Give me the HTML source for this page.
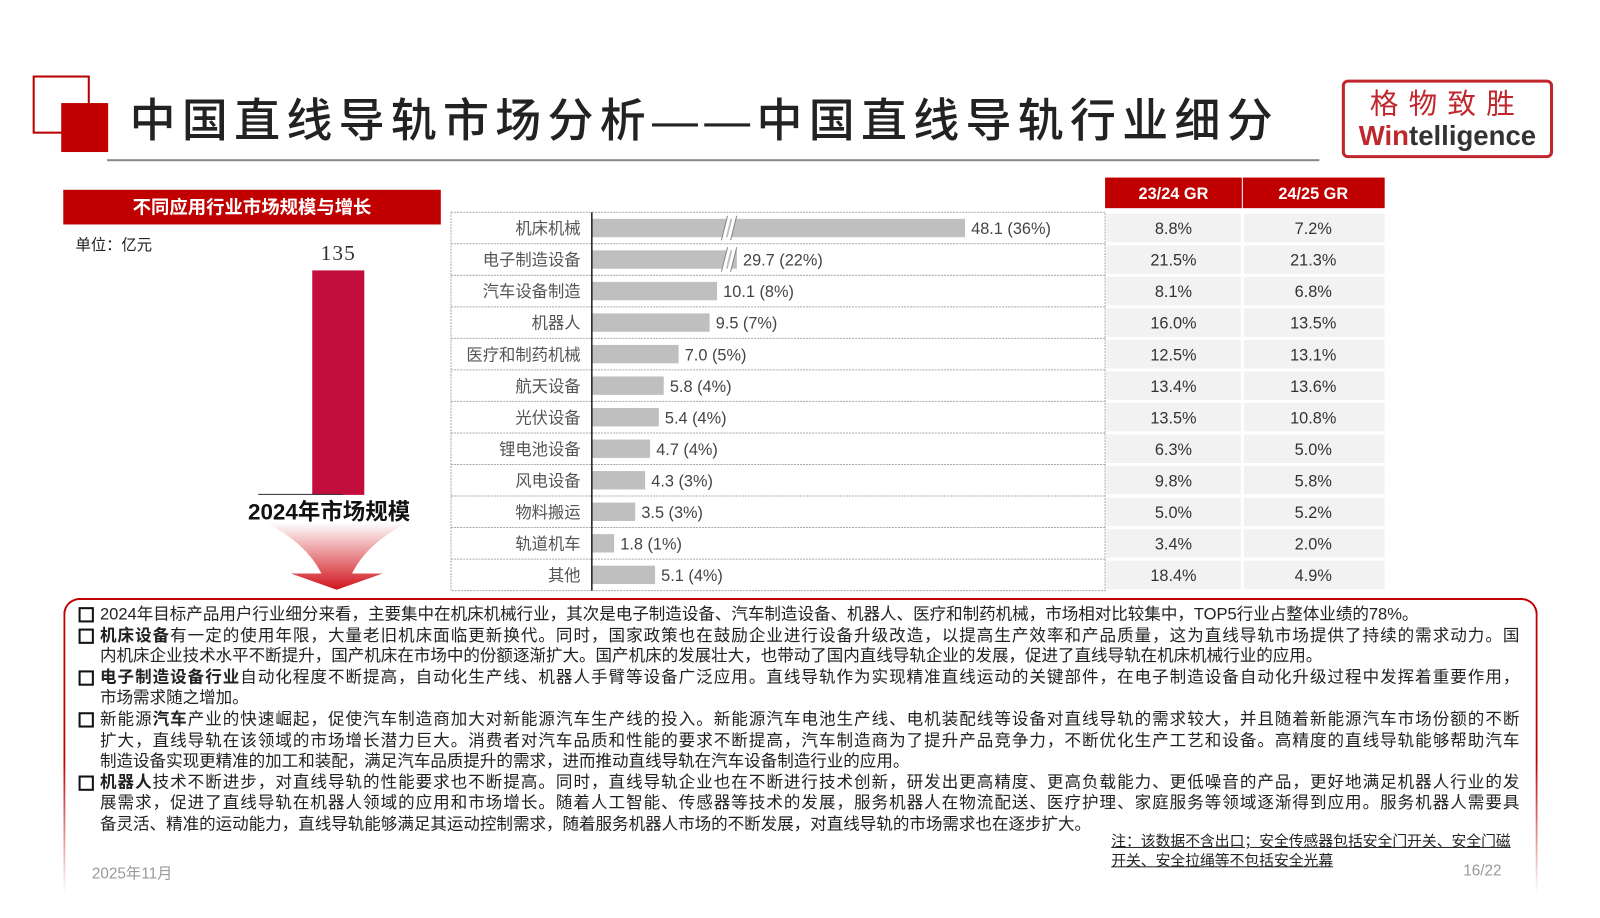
<!DOCTYPE html>
<html><head><meta charset="utf-8">
<style>
*{margin:0;padding:0;box-sizing:border-box}
body{width:1600px;height:900px;background:#fff;position:relative;overflow:hidden;font-family:"Liberation Sans","Noto Sans CJK SC",sans-serif;color:#222}
#wrap{position:absolute;left:0;top:0;width:1568px;height:882px;transform:scale(1.0204);transform-origin:0 0}
.abs{position:absolute}
.title{left:127px;top:82px;font-size:45px;letter-spacing:6.2px;color:#222;white-space:nowrap;font-weight:500}
.txt{left:98px;top:592px;width:1391px;font-size:16.2px;line-height:20.6px;color:#222;white-space:nowrap}
.txt p{position:relative}
.txt p:before{content:"";position:absolute;left:-21px;top:3px;width:11px;height:11px;border:2.5px solid #111}
.txt b{font-weight:bold}
.txt .j{display:block;text-align:justify;text-align-last:justify;white-space:normal}
</style></head><body>
<div id="wrap">
<div class="abs" style="left:32px;top:74px;width:56px;height:57px;border:2px solid #b80000"></div>
<div class="abs" style="left:60px;top:101px;width:46px;height:48px;background:#c00000"></div>
<div class="abs title">中国直线导轨市场分析——中国直线导轨行业细分</div>
<div class="abs" style="left:105px;top:156px;width:1188px;height:2px;background:#888"></div>
<div class="abs" style="left:1315px;top:78px;width:207px;height:77px;border:3px solid #c0272d;border-radius:6px;text-align:center">
 <div style="color:#c0272d;font-size:28px;letter-spacing:10px;line-height:34px;margin-top:4px">格物致胜</div>
 <div style="color:#333;font-size:27px;font-weight:bold;line-height:28px"><span style="color:#c0272d">Win</span>telligence</div>
</div>
<div class="abs" style="left:62px;top:186px;width:370px;height:34px;background:#c00000;color:#fff;font-weight:bold;font-size:18px;text-align:center;line-height:34px">不同应用行业市场规模与增长</div>
<div class="abs" style="left:74px;top:229px;font-size:15px">单位：亿元</div>
<div class="abs" style="left:306px;top:236px;width:51px;text-align:center;font-size:21px;font-family:'Liberation Serif',serif;letter-spacing:1px;color:#333">135</div>
<div class="abs" style="left:306px;top:265px;width:51px;height:220px;background:#c20e3c"></div>
<div class="abs" style="left:253px;top:484px;width:83px;height:1px;background:#333"></div>
<div class="abs" style="left:243px;top:484px;font-size:22px;font-weight:bold;color:#111">2024年市场规模</div>
<svg class="abs" style="left:260px;top:512px" width="140" height="66">
<defs><linearGradient id="ag" x1="0" y1="0" x2="0" y2="1"><stop offset="0" stop-color="#fff"/><stop offset="1" stop-color="#d0141c"/></linearGradient></defs>
<path d="M0 0 L140 0 Q100 20 85 50 L115 50 L70 66 L25 50 L55 50 Q40 20 0 0Z" fill="url(#ag)"/>
</svg>
<svg class="abs" style="left:0;top:0" width="1600" height="900" id="chart"></svg>
<div class="abs" style="left:62px;top:586px;width:1445px;height:290px;border:2px solid #c00000;border-bottom:none;border-radius:16px 16px 0 0;-webkit-mask-image:linear-gradient(#000 55%,transparent)"></div>
<div class="abs txt">
<p>2024年目标产品用户行业细分来看，主要集中在机床机械行业，其次是电子制造设备、汽车制造设备、机器人、医疗和制药机械，市场相对比较集中，TOP5行业占整体业绩的78%。</p>
<p><span class="j"><b>机床设备</b>有一定的使用年限，大量老旧机床面临更新换代。同时，国家政策也在鼓励企业进行设备升级改造，以提高生产效率和产品质量，这为直线导轨市场提供了持续的需求动力。国</span>内机床企业技术水平不断提升，国产机床在市场中的份额逐渐扩大。国产机床的发展壮大，也带动了国内直线导轨企业的发展，促进了直线导轨在机床机械行业的应用。</p>
<p><span class="j"><b>电子制造设备行业</b>自动化程度不断提高，自动化生产线、机器人手臂等设备广泛应用。直线导轨作为实现精准直线运动的关键部件，在电子制造设备自动化升级过程中发挥着重要作用，</span>市场需求随之增加。</p>
<p><span class="j">新能源<b>汽车</b>产业的快速崛起，促使汽车制造商加大对新能源汽车生产线的投入。新能源汽车电池生产线、电机装配线等设备对直线导轨的需求较大，并且随着新能源汽车市场份额的不断</span><span class="j">扩大，直线导轨在该领域的市场增长潜力巨大。消费者对汽车品质和性能的要求不断提高，汽车制造商为了提升产品竞争力，不断优化生产工艺和设备。高精度的直线导轨能够帮助汽车</span>制造设备实现更精准的加工和装配，满足汽车品质提升的需求，进而推动直线导轨在汽车设备制造行业的应用。</p>
<p><span class="j"><b>机器人</b>技术不断进步，对直线导轨的性能要求也不断提高。同时，直线导轨企业也在不断进行技术创新，研发出更高精度、更高负载能力、更低噪音的产品，更好地满足机器人行业的发</span><span class="j">展需求，促进了直线导轨在机器人领域的应用和市场增长。随着人工智能、传感器等技术的发展，服务机器人在物流配送、医疗护理、家庭服务等领域逐渐得到应用。服务机器人需要具</span>备灵活、精准的运动能力，直线导轨能够满足其运动控制需求，随着服务机器人市场的不断发展，对直线导轨的市场需求也在逐步扩大。</p>
</div>
<div class="abs" style="left:1089px;top:816px;font-size:14.5px;line-height:19px;text-decoration:underline;color:#222">注：该数据不含出口；安全传感器包括安全门开关、安全门磁<br>开关、安全拉绳等不包括安全光幕</div>
<div class="abs" style="left:90px;top:845px;font-size:15px;color:#999">2025年11月</div>
<div class="abs" style="left:1434px;top:845px;font-size:15px;color:#999">16/22</div>
</div>
<script>
const categories=["机床机械","电子制造设备","汽车设备制造","机器人","医疗和制药机械","航天设备","光伏设备","锂电池设备","风电设备","物料搬运","轨道机车","其他"];
const values=[48.1,29.7,10.1,9.5,7.0,5.8,5.4,4.7,4.3,3.5,1.8,5.1];
const shares=["36%","22%","8%","7%","5%","4%","4%","4%","3%","3%","1%","4%"];
const gr2324=["8.8%","21.5%","8.1%","16.0%","12.5%","13.4%","13.5%","6.3%","9.8%","5.0%","3.4%","18.4%"];
const gr2425=["7.2%","21.3%","6.8%","13.5%","13.1%","13.6%","10.8%","5.0%","5.8%","5.2%","2.0%","4.9%"];
const NS="http://www.w3.org/2000/svg";
const svg=document.getElementById('chart');
const x0=580,scale=12.15,breakCut=18,breakAt=20,top0=208,rowH=30.9;
function xs(v){return x0+scale*(v>breakAt?v-breakCut:v);}
function yr(i){return top0+i*rowH;}
function mk(t,a){const e=document.createElementNS(NS,t);for(const k in a)e.setAttribute(k,a[k]);svg.appendChild(e);return e;}
let e;
e=mk('rect',{x:442,y:top0,width:641,height:rowH*categories.length,fill:'none',stroke:'#aaa','stroke-dasharray':'2,1'});

e=mk('rect',{x:1083,y:174,width:134,height:30,fill:'#c00000'});

e=mk('rect',{x:1218,y:174,width:139,height:30,fill:'#c00000'});

[["23/24 GR",1150],["24/25 GR",1287]].forEach(h=>{const t=mk('text',{x:h[1],y:195,'text-anchor':'middle','font-size':16,'font-weight':'bold',fill:'#fff'});t.textContent=h[0];
});
categories.forEach((c,i)=>{
 const y=yr(i),cy=y+rowH/2;
 if(i>0){const l=mk('line',{x1:442,x2:1083,y1:y,y2:y,stroke:'#aaa','stroke-dasharray':'2,1'});
 }
 const lb=mk('text',{x:569,y:cy+6,'text-anchor':'end','font-size':16,fill:'#555'});lb.textContent=c;
 
 const b=mk('rect',{x:x0,y:cy-9,width:xs(values[i])-x0,height:18,fill:'#bfbfbf'});
 
 if(values[i]>breakAt){
  const bk=mk('path',{d:`M709 ${cy+12} L715 ${cy-12} M714 ${cy+12} L720 ${cy-12}`,stroke:'#fff','stroke-width':3});
  
  const bk2=mk('path',{d:`M707 ${cy+12} L713 ${cy-12} M716 ${cy+12} L722 ${cy-12}`,stroke:'#888','stroke-width':1});
  
 }
 const vl=mk('text',{x:xs(values[i])+6,y:cy+6,'font-size':16,fill:'#444'});vl.textContent=values[i].toFixed(1)+" ("+shares[i]+")";
 
 const c1=mk('rect',{x:1084,y:y+1.5,width:132,height:rowH-3,fill:'#f2f2f2'});
 
 const c2=mk('rect',{x:1219,y:y+1.5,width:138,height:rowH-3,fill:'#f2f2f2'});
 
 const t1=mk('text',{x:1150,y:cy+6,'text-anchor':'middle','font-size':16,fill:'#333'});t1.textContent=gr2324[i];
 
 const t2=mk('text',{x:1287,y:cy+6,'text-anchor':'middle','font-size':16,fill:'#333'});t2.textContent=gr2425[i];
 
});
e=mk('line',{x1:x0,x2:x0,y1:top0,y2:top0+rowH*categories.length,stroke:'#222','stroke-width':1.5});

</script>
</body></html>
